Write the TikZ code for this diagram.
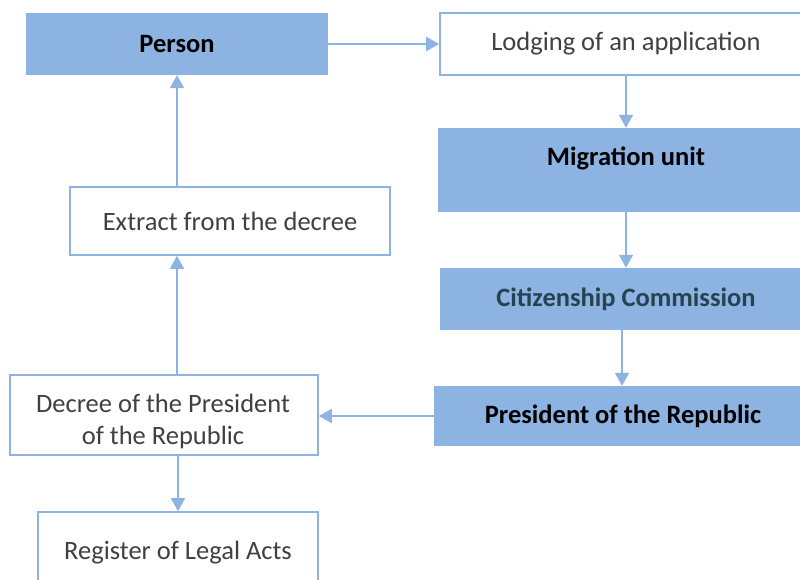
\documentclass[tikz,border=0pt]{standalone}
\usepackage{fontspec}
\setmainfont{Carlito}
\usepackage{xcolor}
\usetikzlibrary{arrows.meta}
\definecolor{boxblue}{HTML}{8DB3E2}
\definecolor{txtgray}{HTML}{404040}
\definecolor{txtslate}{HTML}{264352}
\tikzset{
  filledbox/.style={draw=none, fill=boxblue, inner sep=0pt, font=\fontsize{26.5}{30}\selectfont\bfseries},
  plainbox/.style={draw=boxblue, line width=1.6pt, fill=white, inner sep=0pt, text=txtgray, font=\fontsize{26.5}{32}\selectfont, align=center},
  flow/.style={-{Triangle[length=13pt,width=14pt]}, line width=1.6pt, draw=boxblue},
}
\begin{document}
\begin{tikzpicture}[x=1pt,y=-1pt]
  \useasboundingbox (0,0) rectangle (800,580);

  % left column
  \node[filledbox, minimum width=302pt, minimum height=62pt] (per) at (177,44) {Person};
  \node[plainbox, minimum width=320pt, minimum height=68pt] (ext) at (230,221) {Extract from the decree};
  \node[plainbox, minimum width=308pt, minimum height=80pt] (dec) at (164,415) {};
  \node[text=txtgray, font=\fontsize{26.5}{32}\selectfont, align=center, inner sep=0pt] (dectxt) at (163,421) {Decree of the President\\of the Republic};
  \node[plainbox, minimum width=280pt, minimum height=82pt] (reg) at (178,553) {Register of Legal Acts};

  % right column
  \node[plainbox, minimum width=372pt, minimum height=62pt] (lod) at (626,44) {Lodging of an application};
  \node[filledbox, minimum width=376pt, minimum height=84pt] (mig) at (626,170) {};
  \node[font=\fontsize{26.5}{30}\selectfont\bfseries, inner sep=0pt] (migtxt) at (626,158) {Migration unit};
  \node[filledbox, text=txtslate, minimum width=372pt, minimum height=62pt] (cit) at (626,299) {Citizenship Commission};
  \node[filledbox, minimum width=378pt, minimum height=60pt] (pres) at (623,416) {President of the Republic};

  % arrows
  \draw[flow] (per.east) -- (lod.west);
  \draw[flow] (lod.south) -- (mig.north);
  \draw[flow] (mig.south) -- (cit.north);
  \draw[flow] ([xshift=-4pt]cit.south) -- ([xshift=-4pt]cit.south |- pres.north);
  \draw[flow] (pres.west) -- (pres.west -| dec.east);
  \draw[flow] (dec.north -| per.south) -- (ext.south -| per.south);
  \draw[flow] (ext.north -| per.south) -- (per.south);
  \draw[flow] (dec.south -| reg.north) -- (reg.north);

\end{tikzpicture}
\end{document}
